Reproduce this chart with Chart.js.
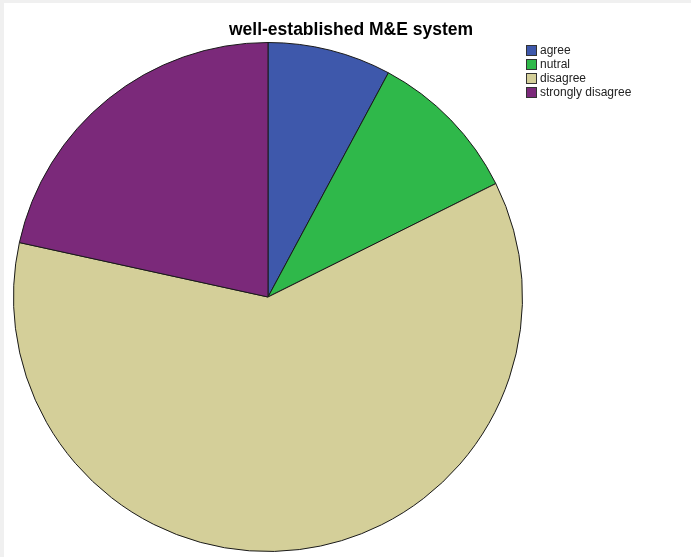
<!DOCTYPE html>
<html>
<head>
<meta charset="utf-8">
<script src="https://cdn.jsdelivr.net/npm/chart.js@4/dist/chart.umd.min.js"></script>
<style>
  html, body { margin: 0; padding: 0; background: #ffffff; }
  canvas { display: block; }
</style>
</head>
<body>
<canvas id="c" width="691" height="557"></canvas>
<script>
const chartTitle = "well-established M&E system";
const categories = ["agree", "nutral", "disagree", "strongly disagree"];
const counts = [4, 5, 31, 11];
const colors = ["#3e58ab", "#2fb84a", "#d4cf99", "#7b297a"];

const framePlugin = {
  id: 'frame',
  beforeDraw(chart) {
    const ctx = chart.ctx;
    ctx.save();
    ctx.fillStyle = '#ffffff';
    ctx.fillRect(0, 0, chart.width, chart.height);
    ctx.fillStyle = '#f0f0f0';
    ctx.fillRect(0, 0, chart.width, 3);
    ctx.fillRect(0, 0, 4, chart.height);
    ctx.restore();
  },
  afterDraw(chart) {
    const ctx = chart.ctx;
    ctx.save();
    // title
    ctx.fillStyle = '#000000';
    ctx.font = 'bold 17.5px "Liberation Sans", Arial, sans-serif';
    ctx.textAlign = 'center';
    ctx.textBaseline = 'alphabetic';
    ctx.fillText(chartTitle, 351, 35);
    // legend
    ctx.font = '12px "Liberation Sans", Arial, sans-serif';
    ctx.textAlign = 'left';
    ctx.textBaseline = 'middle';
    categories.forEach((lab, i) => {
      const y = 45 + i * 14;
      ctx.fillStyle = colors[i];
      ctx.fillRect(526, y, 11, 11);
      ctx.strokeStyle = '#333333';
      ctx.lineWidth = 1;
      ctx.strokeRect(526.5, y + 0.5, 10, 10);
      ctx.fillStyle = '#222222';
      ctx.fillText(lab, 540, y + 6);
    });
    ctx.restore();
  }
};

new Chart(document.getElementById('c'), {
  type: 'pie',
  data: {
    labels: categories,
    datasets: [{
      data: counts,
      backgroundColor: colors,
      borderColor: '#1a1a1a',
      borderWidth: 1
    }]
  },
  options: {
    responsive: false,
    animation: false,
    layout: { padding: { left: 13, top: 42, right: 168, bottom: 5 } },
    plugins: {
      legend: { display: false },
      title: { display: false },
      tooltip: { enabled: false }
    }
  },
  plugins: [framePlugin]
});
</script>
</body>
</html>
